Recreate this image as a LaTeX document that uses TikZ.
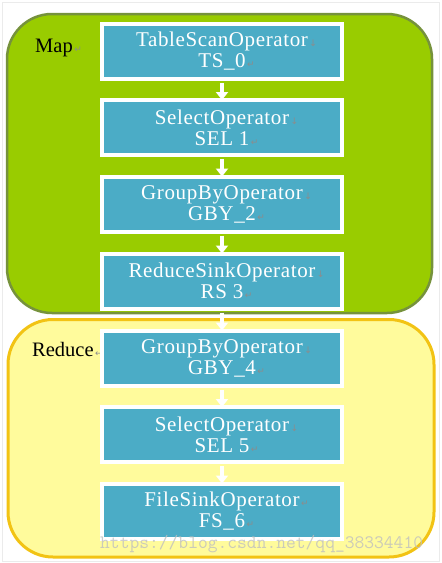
\documentclass[tikz,border=0pt]{standalone}
\usepackage{fontspec}
\setmainfont{Liberation Serif}
\newfontfamily\boxfont[LetterSpace=3]{Liberation Serif}
\newfontfamily\markfont{DejaVu Sans}
\usetikzlibrary{arrows.meta}
\definecolor{mapfill}{HTML}{99CC00}
\definecolor{mapline}{HTML}{76923C}
\definecolor{redfill}{HTML}{FFFB9C}
\definecolor{redline}{HTML}{F2C314}
\definecolor{opblue}{HTML}{4BACC6}
\definecolor{markgray}{HTML}{8C8C8C}
\newcommand{\pmdown}{\rlap{\markfont\fontsize{9}{9}\selectfont\color{markgray}\,↓}}
\newcommand{\pmret}{\rlap{\markfont\fontsize{9}{9}\selectfont\color{markgray}\,↵}}
\tikzset{
  opbox/.style={draw=white, line width=4pt, fill=opblue, minimum width=240pt,
    minimum height=55pt, inner sep=0pt, align=center, text=white,
    font=\boxfont\fontsize{21}{21}\selectfont},
  flow/.style={draw=white, line width=4.5pt, -{Triangle[width=12pt,length=8pt]}},
  phase/.style={rounded corners=45pt},
  phaselabel/.style={anchor=base west, inner sep=0pt, font=\fontsize{20.5}{20}\selectfont}
}
\begin{document}
\begin{tikzpicture}[x=1pt,y=-1pt]
\useasboundingbox (0,0) rectangle (442,563);
\fill[white] (0,0) rectangle (442,563);
\draw[black!8, line width=1pt] (2,2.5) rectangle (439,561);
% phases
\draw[phase, fill=mapfill, draw=mapline, line width=2.5pt] (7,14) rectangle (432,313);
\draw[phase, fill=redfill, draw=redline, line width=3pt] (8,319.5) rectangle (434,557);
\node[phaselabel] (map) at (35,52.5) {Map\pmret};
\node[phaselabel] (red) at (32,356) {Reduce\pmret};
% operators
\node[opbox] (ts)   at (222,51.5)  {TableScanOperator\pmdown\\TS\_0\pmret};
\node[opbox] (sel1) at (222,127.5) {SelectOperator\pmdown\\SEL 1\pmret};
\node[opbox] (gby2) at (222,204)   {GroupByOperator\pmdown\\GBY\_2\pmret};
\node[opbox] (rs3)  at (222,281)   {ReduceSinkOperator\pmdown\\RS 3\pmret};
\node[opbox] (gby4) at (222,358)   {GroupByOperator\pmdown\\GBY\_4\pmret};
\node[opbox] (sel5) at (222,434.5) {SelectOperator\pmdown\\SEL 5\pmret};
\node[opbox] (fs6)  at (222,511)   {FileSinkOperator\pmret\\FS\_6\pmret};
% flow
\foreach \a/\b in {ts/sel1, sel1/gby2, gby2/rs3, rs3/gby4, gby4/sel5, sel5/fs6}
  \draw[flow] ([yshift=-2pt]\a.south) -- ([yshift=-2pt]\b.north);
% watermark
\node[anchor=base west, inner sep=0pt, text=black!25, opacity=0.8,
  font=\ttfamily\fontsize{19}{19}\selectfont] (wm) at (100,548) {https://blog.csdn.net/qq\_38334410};
\end{tikzpicture}
\end{document}
